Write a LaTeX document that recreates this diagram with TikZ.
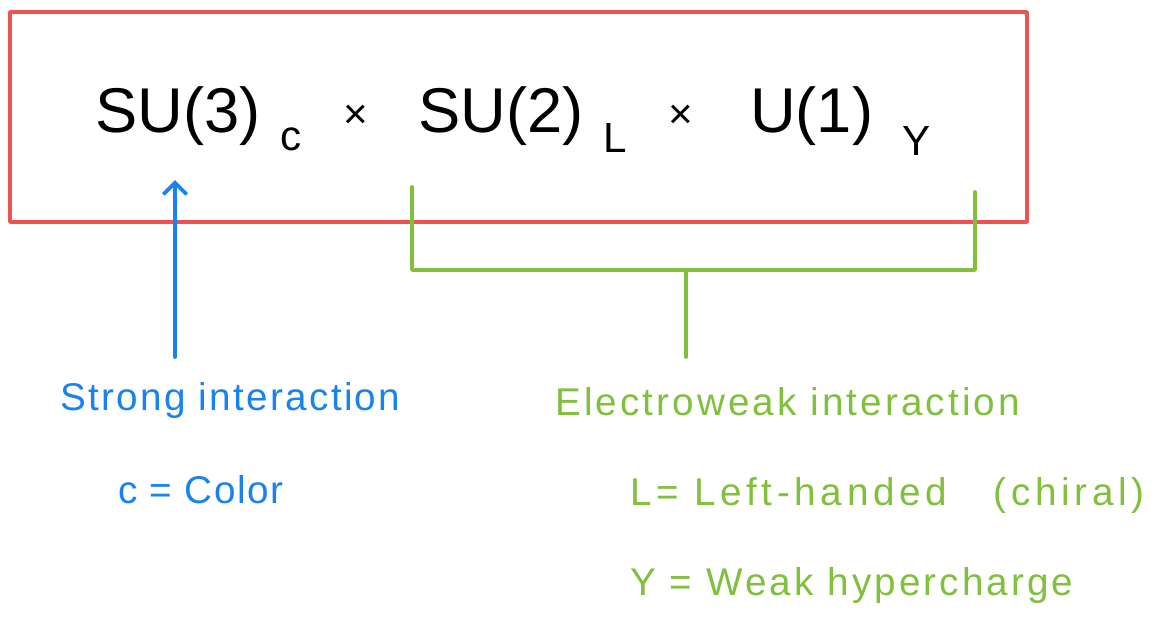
\documentclass[tikz,border=0pt]{standalone}
\usepackage{fontspec}
\setmainfont{Liberation Sans}
\usetikzlibrary{arrows.meta,positioning,calc}
\definecolor{boxred}{RGB}{238,82,82}
\definecolor{strongblue}{RGB}{25,130,240}
\definecolor{weakgreen}{RGB}{128,192,60}
\tikzset{
    label text/.style={inner sep=0pt, anchor=west,
        font=\fontsize{33}{36}\selectfont\addfontfeatures{LetterSpace=#1}},
    label text/.default=6,
    group part/.style={inner sep=0pt, anchor=base west, font=\fontsize{54}{60}\selectfont},
    group sub/.style={inner sep=0pt, anchor=base west, font=\fontsize{36}{40}\selectfont},
    hand line/.style={line width=3.2pt, line cap=round, line join=round}
}
\begin{document}
\begin{tikzpicture}[x=0.03cm, y=-0.03cm]
    \useasboundingbox (0,0) rectangle (1162,630);
    % gauge group
    \draw[boxred, hand line] (10,12) rectangle (1027,222);
    \node[group part] (su3) at (95,132) {SU(3)};
    \node[group sub] (c) at (280,150) {c};
    \node[group sub] (times1) at (343,128) {×};
    \node[group part] (su2) at (418,132) {SU(2)};
    \node[group sub] (l) at (603,152) {L};
    \node[group sub] (times2) at (668,128) {×};
    \node[group part] (u1) at (750,132) {U(1)};
    \node[group sub] (y) at (902,155) {Y};
    % strong part
    \node[label text=6, text=strongblue] (strong) at (60,400) {Strong interaction};
    \node[label text=4, text=strongblue] (color) at (118,490) {c = Color};
    \coordinate (su3 arrow) at (175,180);
    \draw[strongblue, hand line, -{Straight Barb[length=10pt,width=20pt]}] (175,357) -- (su3 arrow);
    % electroweak part
    \node[label text=8, text=weakgreen] (weak) at (555,402) {Electroweak interaction};
    \node[label text=12, text=weakgreen] (chiral) at (630,495) {L= Left-handed\hspace{1.4cm}(chiral)};
    \node[label text=8, text=weakgreen] (hyper) at (630,585) {Y = Weak hypercharge};
    \coordinate (su2 end) at (412,187);
    \coordinate (u1 end) at (975,192);
    \draw[weakgreen, hand line] (su2 end) -- (412,270) -- (975,270) -- (u1 end);
    \draw[weakgreen, hand line] (686,270) -- (686,357);
\end{tikzpicture}
\end{document}
